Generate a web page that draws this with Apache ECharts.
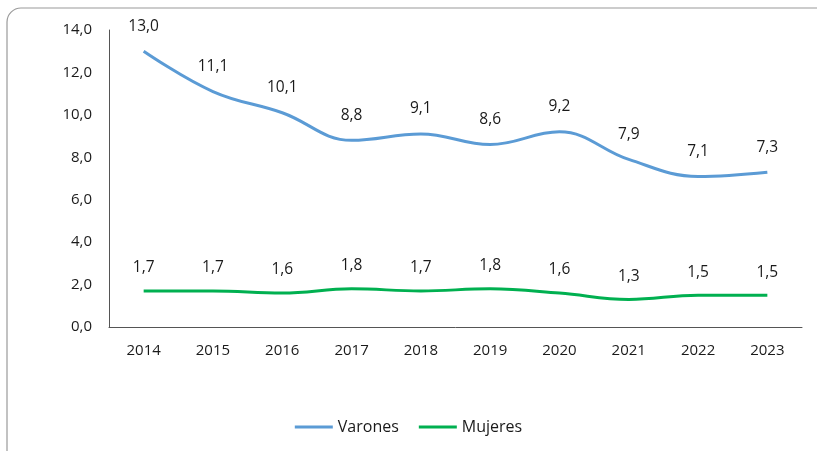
<!DOCTYPE html>
<html style="height: 100%">
<head>
    <meta charset="utf-8">
    <script src="https://cdn.jsdelivr.net/npm/echarts@6/dist/echarts.min.js"></script>
</head>
<body style="height: 100%; margin: 0; background: #fff">
<div id="container" style="width: 817px; height: 451px"></div>
<script type="text/javascript">
    var years = ['2014', '2015', '2016', '2017', '2018', '2019', '2020', '2021', '2022', '2023'];
    var varones = [13.0, 11.1, 10.1, 8.8, 9.1, 8.6, 9.2, 7.9, 7.1, 7.3];
    var mujeres = [1.7, 1.7, 1.6, 1.8, 1.7, 1.8, 1.6, 1.3, 1.5, 1.5];

    var fmt = function (v) { return v.toFixed(1).replace('.', ','); };
    var font = 'Open Sans, sans-serif';

    var myChart = echarts.init(document.getElementById('container'));
    myChart.setOption({
        animation: false,
        textStyle: {fontFamily: font},
        graphic: [{
            type: 'rect',
            shape: {x: 7, y: 8, width: 830, height: 460, r: 14},
            style: {fill: 'none', stroke: '#9a9a9a', lineWidth: 1.2},
            z: -1
        }],
        grid: {left: 109, right: 15, top: 30, bottom: 124},
        legend: {
            bottom: 11,
            left: 'center',
            itemWidth: 38,
            itemHeight: 3,
            itemGap: 20,
            icon: 'rect',
            textStyle: {fontSize: 16, color: '#1a1a1a', fontFamily: font},
            data: ['Varones', 'Mujeres']
        },
        xAxis: {
            type: 'category',
            data: years,
            axisLine: {lineStyle: {color: '#555'}},
            axisTick: {show: false},
            axisLabel: {fontSize: 15, color: '#1a1a1a', margin: 16}
        },
        yAxis: {
            type: 'value',
            min: 0,
            max: 14,
            interval: 2,
            axisLine: {show: true, lineStyle: {color: '#555'}},
            axisTick: {show: false},
            splitLine: {show: false},
            axisLabel: {fontSize: 15, color: '#1a1a1a', margin: 17, formatter: fmt}
        },
        series: [{
            name: 'Varones',
            type: 'line',
            smooth: 0.4,
            symbol: 'circle',
            symbolSize: 0,
            data: varones,
            lineStyle: {width: 3, color: '#5b9bd5'},
            itemStyle: {color: '#5b9bd5'},
            label: {show: true, position: 'top', distance: 17, fontSize: 15.5, color: '#1a1a1a',
                formatter: function (p) { return fmt(p.value); }}
        }, {
            name: 'Mujeres',
            type: 'line',
            smooth: 0.4,
            symbol: 'circle',
            symbolSize: 0,
            data: mujeres,
            lineStyle: {width: 3, color: '#00b050'},
            itemStyle: {color: '#00b050'},
            label: {show: true, position: 'top', distance: 15, fontSize: 15.5, color: '#1a1a1a',
                formatter: function (p) { return fmt(p.value); }}
        }]
    });
</script>
</body>
</html>
